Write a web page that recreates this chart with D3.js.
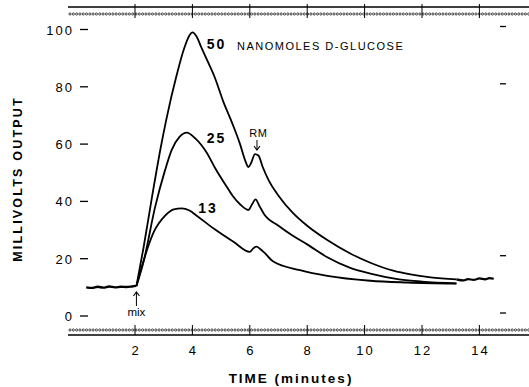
<!DOCTYPE html>
<html>
<head>
<meta charset="utf-8">
<script src="https://cdn.jsdelivr.net/npm/d3@7"></script>
<style>
  body { margin: 0; background: #fff; }
  svg { display: block; font-family: "Liberation Sans", Arial, sans-serif; }
</style>
</head>
<body>
<svg id="chart" width="529" height="387"></svg>
<script>
'use strict';

// Datos: [tiempo (min), milivoltios]
var base = [[0.3,10],[0.5,9.8],[0.7,10.2],[0.9,9.9],[1.1,10.3],[1.3,10],[1.5,10.2],[1.7,10.1],[1.9,10.3],[2.05,10.5]];
var cola = [[13.2,12.8],[13.45,12.4],[13.6,12.9],[13.8,12.6],[14.0,13.1],[14.2,12.8],[14.35,13.2],[14.5,13]];

var curva50 = [[2.05,10.5],[2.3,24],[2.6,42],[2.9,59],[3.1,69],[3.45,84],[3.7,93],[3.9,98],[4.0,99],[4.15,97.5],
  [4.3,94],[4.55,88.5],[4.79,83],[5.07,75],[5.38,67.5],[5.66,60],[5.85,54],[5.95,52],[6.05,53.5],[6.18,56.5],
  [6.3,56],[6.45,52],[6.65,47.5],[7.0,42],[7.5,36],[8.0,31.5],[8.7,26.5],[9.5,21.8],[10.2,18.6],[11.0,15.8],
  [11.6,14.5],[12.3,13.5],[13.2,12.8]];

var curva25 = [[2.05,10.5],[2.3,19],[2.7,38],[3.05,51],[3.28,58],[3.55,62.5],[3.8,64],[4.1,62],[4.5,57],[4.8,51.5],
  [5.14,46],[5.4,42],[5.66,39],[5.95,37],[6.08,39],[6.2,40.7],[6.33,38.5],[6.5,35.5],[7.0,31.5],[7.5,28],
  [8.0,25],[8.7,20.5],[9.5,16.8],[10.2,14.8],[11.2,12.8],[12.0,12],[13.2,11.4]];

var curva13 = [[2.05,10.5],[2.29,19],[2.64,29],[3.05,35],[3.35,37.2],[3.63,37.6],[3.9,36.8],[4.15,35],[4.73,30.6],
  [5.43,25.9],[6.0,22.4],[6.12,23.6],[6.24,24.2],[6.36,23.4],[6.5,22.2],[6.82,19],[7.75,16],[8.7,14],
  [10.2,12.3],[11.5,11.7],[13.2,11.3]];

var ticksX = [2, 4, 6, 8, 10, 12, 14];
var ticksY = [0, 20, 40, 60, 80, 100];
var etiquetas = [
  { texto: '50', t: 4.5, v: 93.2 },
  { texto: '25', t: 4.5, v: 60.3 },
  { texto: '13', t: 4.2, v: 35.9 }
];

var svg = d3.select('#chart');

var x = d3.scaleLinear().domain([0, 14]).range([77.6, 479.4]);
var y = d3.scaleLinear().domain([0, 100]).range([316, 29.5]);

var linea = d3.line()
  .x(function(d) { return x(d[0]); })
  .y(function(d) { return y(d[1]); })
  .curve(d3.curveMonotoneX);

// Marco superior e inferior (regla con puntitos)
function regla(yLinea, yPuntos, yTick0, yTick1) {
  var g = svg.append('g');
  g.append('line')
    .attr('x1', 68).attr('x2', 529)
    .attr('y1', yLinea).attr('y2', yLinea)
    .attr('stroke', '#000').attr('stroke-width', 1.4);
  g.selectAll('circle').data(d3.range(70, 529, 3.3)).enter().append('circle')
    .attr('cx', function(d) { return d; })
    .attr('cy', yPuntos)
    .attr('r', 1.1)
    .attr('fill', 'none')
    .attr('stroke', '#000')
    .attr('stroke-width', 0.7);
  g.selectAll('.tick').data(ticksX.concat([16])).enter().append('line')
    .attr('x1', function(d) { return x(d); })
    .attr('x2', function(d) { return x(d); })
    .attr('y1', yTick0).attr('y2', yTick1)
    .attr('stroke', '#000').attr('stroke-width', 1);
}
regla(7, 14, 4, 18);
regla(335, 330, 325, 335);

// Eje Y
var ejeY = svg.append('g');
ejeY.selectAll('text').data(ticksY).enter().append('text')
  .attr('x', 74).attr('y', function(d) { return y(d) + 5; })
  .attr('text-anchor', 'end')
  .attr('font-size', 13)
  .attr('letter-spacing', 2)
  .text(function(d) { return d; });
ejeY.selectAll('.izq').data(ticksY).enter().append('line')
  .attr('x1', 80).attr('x2', 88)
  .attr('y1', function(d) { return y(d); })
  .attr('y2', function(d) { return y(d); })
  .attr('stroke', '#000').attr('stroke-width', 1.3);
ejeY.selectAll('.der').data([0, 20, 80, 100]).enter().append('line')
  .attr('x1', 500).attr('x2', 506)
  .attr('y1', function(d) { return y(d) - 3; })
  .attr('y2', function(d) { return y(d) - 3; })
  .attr('stroke', '#000').attr('stroke-width', 1.3);

// Eje X
svg.append('g').selectAll('text').data(ticksX).enter().append('text')
  .attr('x', function(d) { return x(d) + 1; })
  .attr('y', 355)
  .attr('text-anchor', 'middle')
  .attr('font-size', 13)
  .attr('letter-spacing', 2)
  .text(function(d) { return d; });

svg.append('text')
  .attr('x', 291).attr('y', 383)
  .attr('text-anchor', 'middle')
  .attr('font-size', 13.5).attr('font-weight', 'bold')
  .attr('letter-spacing', 2)
  .text('TIME (minutes)');

svg.append('text')
  .attr('transform', 'translate(22,179) rotate(-90)')
  .attr('text-anchor', 'middle')
  .attr('font-size', 12.5).attr('font-weight', 'bold')
  .attr('letter-spacing', 2.2)
  .text('MILLIVOLTS OUTPUT');

// Curvas
var trazos = svg.append('g').attr('fill', 'none').attr('stroke', '#000');
trazos.append('path').datum(base).attr('d', linea).attr('stroke-width', 2.4);
trazos.append('path').datum(cola).attr('d', linea).attr('stroke-width', 2.2);
[curva50, curva25, curva13].forEach(function(c) {
  trazos.append('path').datum(c).attr('d', linea).attr('stroke-width', 1.8);
});

// Etiquetas de las curvas
svg.selectAll('.etq').data(etiquetas).enter().append('text')
  .attr('x', function(d) { return x(d.t); })
  .attr('y', function(d) { return y(d.v); })
  .attr('font-size', 14).attr('font-weight', 'bold')
  .attr('letter-spacing', 2)
  .text(function(d) { return d.texto; });

svg.append('text')
  .attr('x', 237).attr('y', 50)
  .attr('font-size', 11)
  .attr('letter-spacing', 1.5)
  .text('NANOMOLES D-GLUCOSE');

// RM y mix con sus flechas
svg.append('text')
  .attr('x', x(6.3)).attr('y', 137)
  .attr('text-anchor', 'middle')
  .attr('font-size', 11)
  .attr('letter-spacing', 0.5)
  .text('RM');
svg.append('text')
  .attr('x', x(2.05)).attr('y', 316)
  .attr('text-anchor', 'middle')
  .attr('font-size', 11.5)
  .text('mix');

function flecha(xp, y0, y1) {
  var dir = y1 > y0 ? 1 : -1;
  svg.append('line')
    .attr('x1', xp).attr('x2', xp).attr('y1', y0).attr('y2', y1)
    .attr('stroke', '#000').attr('stroke-width', 1);
  svg.append('path')
    .attr('d', 'M' + (xp - 3) + ',' + (y1 - dir * 4) + 'L' + xp + ',' + y1 + 'L' + (xp + 3) + ',' + (y1 - dir * 4))
    .attr('fill', 'none').attr('stroke', '#000').attr('stroke-width', 1.1);
}
flecha(x(6.25), 140, 150);
flecha(x(2.05), 306, 292);
</script>
</body>
</html>
